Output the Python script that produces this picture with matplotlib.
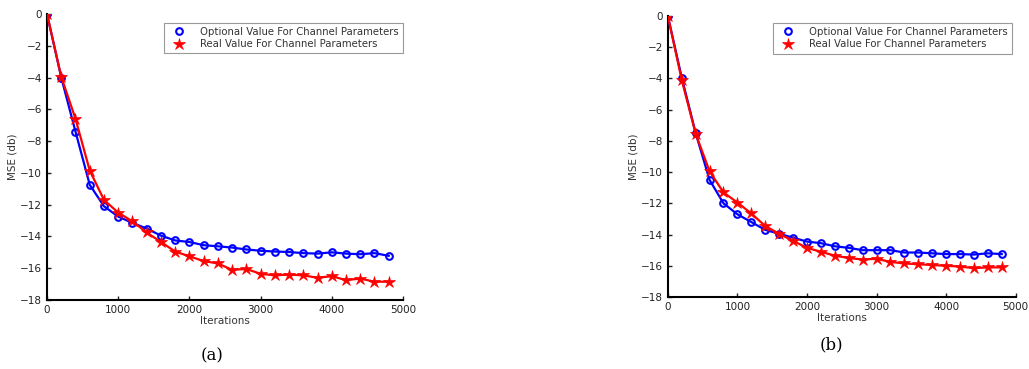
import matplotlib
matplotlib.use('Agg')
import matplotlib.pyplot as plt
from matplotlib.lines import Line2D

# iterations (x axis)
iterations = list(range(0, 5000, 200))

# panel (a)
opt_a = [0, -4.0, -7.4, -10.75, -12.1, -12.75, -13.15, -13.5, -13.95, -14.25,
         -14.35, -14.55, -14.62, -14.7, -14.82, -14.9, -14.95, -14.98, -15.05, -15.08,
         -15.0, -15.08, -15.12, -15.05, -15.22]
real_a = [0, -3.95, -6.6, -9.85, -11.7, -12.5, -13.05, -13.75, -14.35, -14.95,
          -15.25, -15.55, -15.7, -16.1, -16.05, -16.35, -16.45, -16.4, -16.45, -16.6,
          -16.5, -16.75, -16.65, -16.85, -16.85]

# panel (b)
opt_b = [0, -3.95, -7.5, -10.5, -12.0, -12.7, -13.2, -13.7, -13.95, -14.2,
         -14.45, -14.55, -14.75, -14.85, -15.0, -15.0, -15.0, -15.15, -15.15, -15.2,
         -15.25, -15.25, -15.28, -15.2, -15.25]
real_b = [0, -4.1, -7.55, -9.95, -11.3, -11.95, -12.65, -13.45, -13.95, -14.4,
          -14.85, -15.1, -15.35, -15.5, -15.6, -15.55, -15.75, -15.85, -15.9, -15.95,
          -16.0, -16.05, -16.15, -16.1, -16.1]

xticks = [0, 1000, 2000, 3000, 4000, 5000]
yticks = [0, -2, -4, -6, -8, -10, -12, -14, -16, -18]
label_opt = 'Optional Value For Channel Parameters'
label_real = 'Real Value For Channel Parameters'

fig = plt.figure(figsize=(10.29, 3.69), dpi=100)
ax1 = fig.add_axes([0.0457, 0.187, 0.3459, 0.775])
ax2 = fig.add_axes([0.649, 0.195, 0.338, 0.762])


def draw(ax, opt, real, leg_anchor):
    ax.plot(iterations, opt, color='blue', lw=1.6, marker='o', ms=4.8,
            mfc='none', mec='blue', mew=1.5, zorder=3)
    ax.plot(iterations, real, color='red', lw=1.6, marker='*', ms=9,
            mfc='red', mec='red', mew=0.5, zorder=4)
    ax.set_xlim(0, 5000)
    ax.set_ylim(-18, 0)
    ax.set_xticks(xticks)
    ax.set_yticks(yticks)
    ax.tick_params(direction='in', labelsize=7.5, length=3, width=1, colors='#222222')
    ax.spines['top'].set_visible(False)
    ax.spines['right'].set_visible(False)
    ax.spines['left'].set_linewidth(1.5)
    ax.spines['bottom'].set_linewidth(1.5)
    ax.set_xlabel('Iterations', fontsize=7.5, labelpad=1, color='#333333')
    ax.set_ylabel('MSE (db)', fontsize=7.5, labelpad=2, color='#333333')
    # legend shows markers only
    handles = [Line2D([], [], ls='none', marker='o', ms=4.8, mfc='none', mec='blue', mew=1.5),
               Line2D([], [], ls='none', marker='*', ms=9, mfc='red', mec='red', mew=0.5)]
    leg = ax.legend(handles, [label_opt, label_real], loc='upper right',
                    bbox_to_anchor=leg_anchor, fontsize=7.3,
                    frameon=True, fancybox=False, edgecolor='gray',
                    borderpad=0.4, labelspacing=0.25, handlelength=2.2,
                    handletextpad=1.0, borderaxespad=0)
    leg.get_frame().set_linewidth(0.8)
    for t in leg.get_texts():
        t.set_color('#333333')


draw(ax1, opt_a, real_a, (1.0, 0.97))
draw(ax2, opt_b, real_b, (0.99, 0.975))

fig.text(0.206, 0.035, '(a)', fontsize=12, family='DejaVu Serif', ha='center', va='center')
fig.text(0.808, 0.065, '(b)', fontsize=12, family='DejaVu Serif', ha='center', va='center')

fig.savefig('out.png', dpi=100)
